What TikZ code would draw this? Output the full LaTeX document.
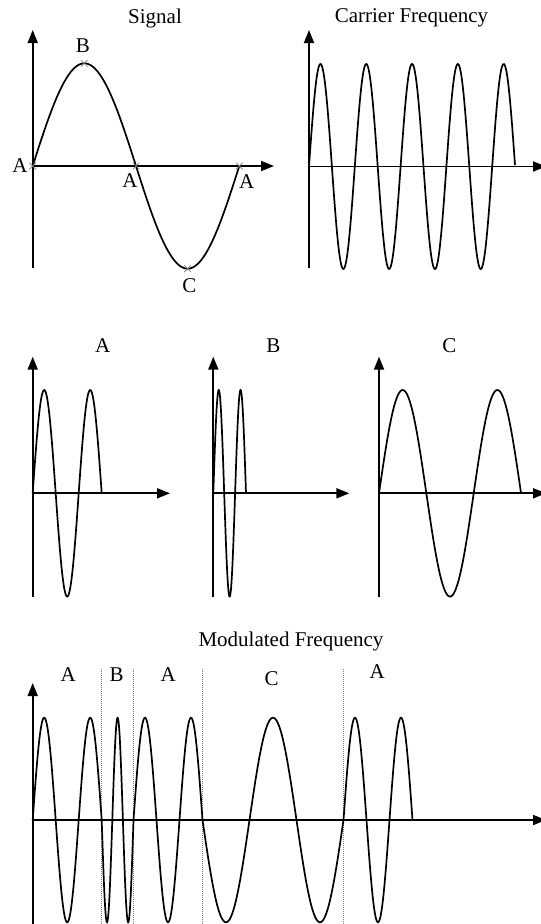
\documentclass[tikz,border=0pt]{standalone}
\usepackage{fontspec}
\setmainfont{Liberation Serif}
\usetikzlibrary{arrows.meta,shapes.misc}

\begin{document}
\begin{tikzpicture}[x=1pt,y=-1pt,
    arrowaxis/.style={line width=1.8pt,-{Triangle[length=13pt,width=10pt]}},
    wave/.style={line width=1.7pt,samples=120,smooth},
    txt/.style={font=\fontsize{21}{24}\selectfont,inner sep=0pt},
    xmark/.style={cross out,draw=gray,line width=0.7pt,minimum size=6pt,inner sep=0pt},
    divider/.style={gray,line width=1pt,densely dotted}
]
\useasboundingbox (0,0) rectangle (541,924);

% Signal
\node[txt] (sigtitle) at (155,18) {Signal};
\draw[arrowaxis] (32.7,268.3) -- (32.7,30);
\draw[arrowaxis] (32.7,166) -- (274,166);
\draw[wave,domain=32.7:239.3] plot (\x,{166-102.7*sin((\x-32.7)/206.6*360)});
\node[xmark] (mA1) at (32.7,166) {};
\node[xmark] (mB) at (84.3,63.3) {};
\node[xmark] (mA2) at (136,166) {};
\node[xmark] (mC) at (187.6,268.7) {};
\node[xmark] (mA3) at (239.3,166) {};
\node[txt] (sA1) at (20,166) {A};
\node[txt] (sB) at (83,46) {B};
\node[txt] (sA2) at (130,181) {A};
\node[txt] (sA3) at (246.7,181.7) {A};
\node[txt] (sC) at (189.3,286) {C};

% Carrier frequency
\node[txt] (cartitle) at (411.5,18) {Carrier Frequency};
\draw[arrowaxis] (309,268.3) -- (309,30);
\draw[arrowaxis] (309,166.5) -- (546,166.5);
\draw[wave,domain=309:515,samples=300] plot (\x,{166.5-102.5*sin((\x-309)/45.8*360)});

% A
\node[txt] (midA) at (102.7,346) {A};
\draw[arrowaxis] (32.7,596.7) -- (32.7,356.7);
\draw[arrowaxis] (32.7,493.3) -- (170,493.3);
\draw[wave,domain=32.7:101.7] plot (\x,{493.3-103.3*sin((\x-32.7)/46*360)});

% B
\node[txt] (midB) at (273.3,346) {B};
\draw[arrowaxis] (213.3,596.7) -- (213.3,356.7);
\draw[arrowaxis] (213.3,493.3) -- (349.3,493.3);
\draw[wave,domain=213.3:246] plot (\x,{493.3-103.3*sin((\x-213.3)/21.8*360)});

% C
\node[txt] (midC) at (449.3,346) {C};
\draw[arrowaxis] (379,596.7) -- (379,356.7);
\draw[arrowaxis] (379,493.3) -- (546,493.3);
\draw[wave,domain=379:521] plot (\x,{493.3-103.3*sin((\x-379)/94.7*360)});

% Modulated frequency
\node[txt] (modtitle) at (291,641.7) {Modulated Frequency};
\draw[divider] (101.7,669) -- (101.7,924);
\draw[divider] (133.5,669) -- (133.5,924);
\draw[divider] (202.5,669) -- (202.5,924);
\draw[divider] (343.5,669) -- (343.5,924);
\node[txt] (segA1) at (68.3,675) {A};
\node[txt] (segB) at (116.7,675) {B};
\node[txt] (segA2) at (168.3,675) {A};
\node[txt] (segC) at (271.7,678.6) {C};
\node[txt] (segA3) at (377.3,671.7) {A};
\draw[arrowaxis] (32.7,930) -- (32.7,683);
\draw[arrowaxis] (32.7,820) -- (546,820);
\draw[wave,domain=32.7:101.7] plot (\x,{820-102.3*sin((\x-32.7)/46*360)});
\draw[wave,domain=101.7:133.5] plot (\x,{820-102.3*sin(180+(\x-101.7)/21.2*360)});
\draw[wave,domain=133.5:202.5] plot (\x,{820-102.3*sin((\x-133.5)/46*360)});
\draw[wave,domain=202.5:343.5] plot (\x,{820-102.3*sin(180+(\x-202.5)/94*360)});
\draw[wave,domain=343.5:412.5] plot (\x,{820-102.3*sin((\x-343.5)/46*360)});

\end{tikzpicture}
\end{document}
